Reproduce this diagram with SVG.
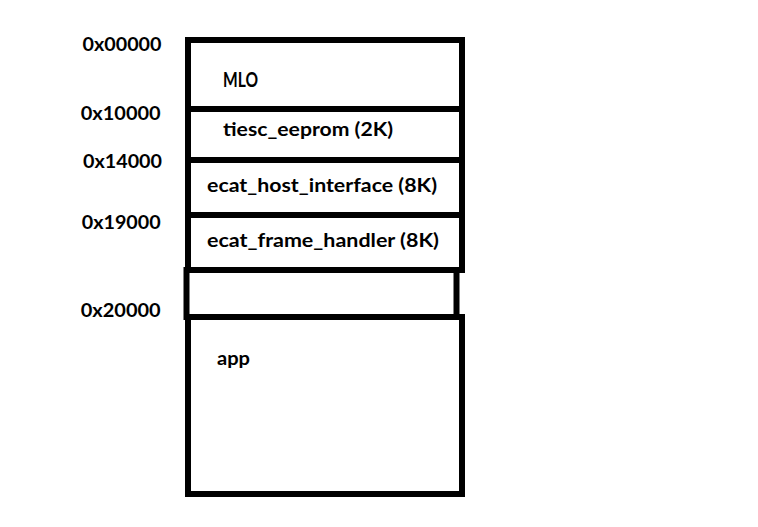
<svg xmlns="http://www.w3.org/2000/svg" width="758" height="527" viewBox="0 0 758 527">
<style>
.box{fill:#fff;stroke:#000;stroke-width:6}
.t{font-family:Lato,"Open Sans","Liberation Sans",sans-serif;font-weight:700;fill:#000}
.addr{font-size:18px}
</style>
<rect x="0" y="0" width="758" height="527" fill="#fff"/>
<g id="labels">
<text class="t addr" x="82.5" y="50.7" textLength="79" lengthAdjust="spacingAndGlyphs">0x00000</text>
<text class="t addr" x="80.7" y="120" textLength="80" lengthAdjust="spacingAndGlyphs">0x10000</text>
<text class="t addr" x="83" y="168.3" textLength="79" lengthAdjust="spacingAndGlyphs">0x14000</text>
<text class="t addr" x="81.7" y="229.3" textLength="79" lengthAdjust="spacingAndGlyphs">0x19000</text>
<text class="t addr" x="80.7" y="316.7" textLength="80" lengthAdjust="spacingAndGlyphs">0x20000</text>
</g>
<g id="mlo">
<rect class="box" x="188" y="40" width="274" height="69"/>
<text class="t" x="223" y="87.3" font-size="20" textLength="35" lengthAdjust="spacingAndGlyphs">MLO</text>
</g>
<g id="tiesc_eeprom">
<rect class="box" x="188" y="109" width="274" height="51"/>
<text class="t" x="223" y="136" font-size="18" textLength="170" lengthAdjust="spacingAndGlyphs">tiesc_eeprom (2K)</text>
</g>
<g id="ecat_host_interface">
<rect class="box" x="188" y="160" width="274" height="55"/>
<text class="t" x="207" y="191.7" font-size="18" textLength="230" lengthAdjust="spacingAndGlyphs">ecat_host_interface (8K)</text>
</g>
<g id="ecat_frame_handler">
<rect class="box" x="188" y="215" width="274" height="55"/>
<text class="t" x="207" y="246.7" font-size="18" textLength="232" lengthAdjust="spacingAndGlyphs">ecat_frame_handler (8K)</text>
</g>
<g id="app">
<rect class="box" x="188" y="317" width="274" height="177"/>
<text class="t" x="217" y="365" font-size="19" textLength="33" lengthAdjust="spacingAndGlyphs">app</text>
</g>
<g id="reserved">
<rect class="box" x="186.5" y="270" width="270" height="47"/>
</g>
</svg>
